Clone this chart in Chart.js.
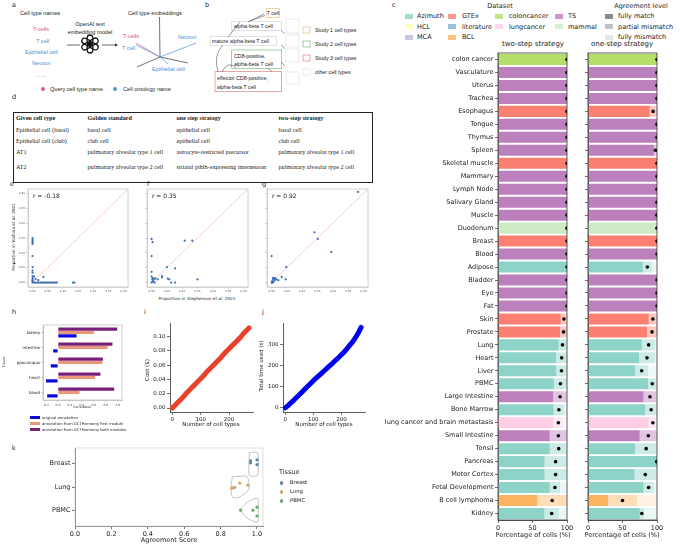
<!DOCTYPE html>
<html>
<head>
<meta charset="utf-8">
<script src="https://cdn.jsdelivr.net/npm/chart.js@4.4.1/dist/chart.umd.min.js"></script>
<style>
  html, body { margin: 0; padding: 0; background: #fff; }
  #page { position: relative; width: 680px; height: 547px; overflow: hidden; font-family: 'DejaVu Sans', sans-serif; color: #222; }
  .t { position: absolute; white-space: nowrap; line-height: 1; }
  .cv { position: absolute; }
  .sw { position: absolute; }
  #tblD { position: absolute; left: 13px; top: 112px; width: 359px; border-collapse: collapse; table-layout: fixed;
          border: 1.2px solid #222; font-family: 'Liberation Serif', serif; font-size: 6.2px; line-height: 1; }
  #tblD td, #tblD th { padding: 0 0 0 1px; text-align: left; vertical-align: middle; white-space: nowrap; overflow: hidden; }
  #tblD th { font-weight: bold; }
</style>
</head>
<body>
<div id="page">

<!-- a / b : diagrammes -->
<svg width="680" height="547" style="position:absolute;left:0;top:0" font-family="'Liberation Sans', Arial, sans-serif" font-size="5.6">
  <!-- a -->
  <text x="20" y="15" fill="#222">Cell type names</text>
  <text x="33" y="31" fill="#e0509a">T-cells</text>
  <text x="36" y="43" fill="#4a8fd8">T cell</text>
  <text x="25" y="54" fill="#4a8fd8">Epithelial cell</text>
  <text x="32" y="65" fill="#4a8fd8">Neuron</text>
  <text x="37" y="77" fill="#4a8fd8">......</text>
  <circle cx="43" cy="89" r="1.9" fill="#e0509a"/>
  <text x="50" y="91" fill="#222">Query cell type name</text>
  <circle cx="115" cy="89" r="1.9" fill="#4a8fd8"/>
  <text x="123" y="91" fill="#222">Cell ontology name</text>
  <text x="90" y="26" text-anchor="middle" fill="#222">OpenAI text</text>
  <text x="90" y="34" text-anchor="middle" fill="#222">embedding model</text>
  <g transform="translate(90,44)" fill="none" stroke="#111" stroke-width="1.3">
    <rect x="-2.8" y="-9" width="5.6" height="10" rx="2.8"/>
    <rect x="-2.8" y="-9" width="5.6" height="10" rx="2.8" transform="rotate(60)"/>
    <rect x="-2.8" y="-9" width="5.6" height="10" rx="2.8" transform="rotate(120)"/>
    <rect x="-2.8" y="-9" width="5.6" height="10" rx="2.8" transform="rotate(180)"/>
    <rect x="-2.8" y="-9" width="5.6" height="10" rx="2.8" transform="rotate(240)"/>
    <rect x="-2.8" y="-9" width="5.6" height="10" rx="2.8" transform="rotate(300)"/>
  </g>
  <line x1="67" y1="45" x2="80" y2="45" stroke="#222" stroke-width="0.7"/>
  <line x1="102" y1="45" x2="116" y2="45" stroke="#222" stroke-width="0.7"/>
  <path d="M118,45 L115,43.6 L115,46.4 Z" fill="#222"/>
  <text x="128" y="15" fill="#222">Cell type embeddings</text>
  <g stroke-width="0.7">
    <line x1="159.5" y1="17" x2="160" y2="57" stroke="#333"/>
    <line x1="160" y1="57" x2="137" y2="67" stroke="#333"/>
    <line x1="160" y1="57" x2="188" y2="63" stroke="#333"/>
    <line x1="160" y1="57" x2="196" y2="43" stroke="#4a8fd8"/>
    <line x1="160" y1="57" x2="168" y2="64" stroke="#4a8fd8"/>
    <line x1="160" y1="57" x2="136" y2="43" stroke="#e0509a"/>
    <line x1="160" y1="57" x2="136" y2="45" stroke="#4a8fd8"/>
  </g>
  <text x="123" y="38" fill="#e0509a">T-cells</text>
  <text x="122" y="50" fill="#4a8fd8">T cell</text>
  <text x="152" y="71" fill="#4a8fd8">Epithelial cell</text>
  <text x="178" y="39" fill="#4a8fd8">Neuron</text>

  <!-- b -->
  <g font-size="5.3" fill="#222">
    <rect x="266.7" y="8.3" width="12.6" height="9" fill="#fff" stroke="#e8b070" stroke-width="0.6"/>
    <text x="273" y="15" text-anchor="middle">T cell</text>
    <rect x="231.7" y="21.7" width="50" height="9" fill="#fff" stroke="#ccc" stroke-width="0.6"/>
    <text x="234" y="28">alpha-beta T cell</text>
    <rect x="210" y="36.7" width="66.7" height="8.5" fill="#fff" stroke="#ccc" stroke-width="0.6"/>
    <text x="212" y="43">mature alpha-beta T cell</text>
    <rect x="231.7" y="50" width="50" height="18.3" fill="#fff" stroke="#6ab06a" stroke-width="0.6"/>
    <text x="234" y="57.5">CD8-positive,</text>
    <text x="234" y="65.5">alpha-beta T cell</text>
    <rect x="215" y="71.7" width="66.7" height="20" fill="#fff" stroke="#d47070" stroke-width="0.6"/>
    <text x="217" y="80">effector CD8-positive,</text>
    <text x="217" y="88.5">alpha-beta T cell</text>
    <g fill="none" stroke="#ddd" stroke-width="0.6">
      <rect x="286" y="19" width="13" height="14"/>
      <rect x="286" y="35" width="13" height="12"/>
      <rect x="286" y="49" width="13" height="13"/>
      <rect x="286" y="72" width="13" height="12"/>
    </g>
    <g fill="none" stroke="#333" stroke-width="0.5">
      <line x1="248" y1="22" x2="264" y2="14"/>
      <line x1="250" y1="21" x2="265" y2="15.5"/>
      <line x1="228" y1="37" x2="240" y2="22"/>
      <path d="M218,72 Q213,55 223,45"/>
      <path d="M222,72 Q228,60 236,68"/>
      <line x1="268" y1="68.3" x2="272" y2="71.7"/>
      <line x1="281" y1="30.5" x2="285" y2="34"/>
      <line x1="281" y1="45" x2="285" y2="48.5"/>
      <line x1="281" y1="62" x2="285" y2="66"/>
    </g>
    <rect x="303" y="27" width="7" height="6" fill="none" stroke="#e8b070" stroke-width="0.6"/>
    <text x="315" y="32">Study 1 cell types</text>
    <rect x="303" y="41" width="7" height="6" fill="none" stroke="#6ab06a" stroke-width="0.6"/>
    <text x="315" y="46">Study 2 cell types</text>
    <rect x="303" y="55" width="7" height="6" fill="none" stroke="#d47070" stroke-width="0.6"/>
    <text x="315" y="60">Study 3 cell types</text>
    <rect x="303" y="69" width="7" height="6" fill="none" stroke="#ddd" stroke-width="0.6"/>
    <text x="315" y="74">other cell types</text>
  </g>
</svg>

<!-- d : tableau -->
<table id="tblD">
  <colgroup><col style="width:73px"><col style="width:89px"><col style="width:102px"><col style="width:95px"></colgroup>
  <tr style="height:11.5px"><th style="padding-left:2px">Given cell type</th><th>Golden standard</th><th>one step strategy</th><th>two-step strategy</th></tr>
  <tr style="height:12.5px"><td style="padding-left:2px">Epithelial cell (basal)</td><td>basal cell</td><td>epithelial cell</td><td>basal cell</td></tr>
  <tr style="height:10px"><td style="padding-left:2px">Epithelial cell (club)</td><td>club cell</td><td>epithelial cell</td><td>club cell</td></tr>
  <tr style="height:11px"><td style="padding-left:2px">AT1</td><td>pulmonary alveolar type 1 cell</td><td>astrocyte-restricted precursor</td><td>pulmonary alveolar type 1 cell</td></tr>
  <tr style="height:25px"><td style="padding-left:2px;vertical-align:top;padding-top:6px">AT2</td><td style="vertical-align:top;padding-top:6px">pulmonary alveolar type 2 cell</td><td style="vertical-align:top;padding-top:6px">striatal pthlh-expressing interneuron</td><td style="vertical-align:top;padding-top:6px">pulmonary alveolar type 2 cell</td></tr>
</table>

</div>

<script>
// ---- panel c : accord par tissu
const tissues = ['colon cancer', 'Vasculature', 'Uterus', 'Trachea', 'Esophagus', 'Tongue', 'Thymus', 'Spleen',
  'Skeletal muscle', 'Mammary', 'Lymph Node', 'Salivary Gland', 'Muscle', 'Duodenum', 'Breast', 'Blood',
  'Adipose', 'Bladder', 'Eye', 'Fat', 'Skin', 'Prostate', 'Lung', 'Heart', 'Liver', 'PBMC', 'Large Intestine',
  'Bone Marrow', 'lung cancer and brain metastasis', 'Small Intestine', 'Tonsil', 'Pancreas', 'Motor Cortex',
  'Fetal Development', 'B cell lymphoma', 'Kidney'];
const tissueSource = ['coloncancer', 'TS', 'TS', 'TS', 'GTEx', 'TS', 'TS', 'TS',
  'GTEx', 'TS', 'TS', 'TS', 'TS', 'mammal', 'GTEx', 'TS',
  'Azimuth', 'TS', 'TS', 'TS', 'GTEx', 'GTEx', 'Azimuth', 'Azimuth', 'Azimuth', 'Azimuth', 'TS',
  'Azimuth', 'lungcancer', 'TS', 'Azimuth', 'Azimuth', 'Azimuth',
  'Azimuth', 'BCL', 'Azimuth'];
const twoFull = [100, 100, 100, 100, 100, 100, 100, 100, 100, 100, 100, 100, 100, 100, 100, 100,
  100, 100, 100, 100, 91, 90, 88, 84.5, 84.5, 81, 80, 80.5, 80, 75, 75, 67.5, 67.5, 75, 57, 67.5];
const twoPartial = [0, 0, 0, 0, 0, 0, 0, 0, 0, 0, 0, 0, 0, 0, 0, 0,
  0, 0, 0, 0, 9, 10, 11, 15.5, 15, 19, 20, 15.5, 15, 25, 25, 32, 32, 15, 43, 20.5];
const twoScore = [100, 100, 100, 100, 100, 100, 100, 100, 100, 100, 100, 100, 100, 100, 100, 100,
  100, 100, 100, 100, 95.5, 95, 93.5, 92.3, 92, 90.5, 90, 88.3, 87.5, 87.5, 88, 83.5, 83.5, 82.5, 78.5, 77.8];
const oneFull = [100, 100, 100, 100, 89.5, 100, 100, 95.5, 100, 100, 100, 100, 100, 100, 100, 100,
  79.5, 100, 100, 100, 88, 85.5, 78, 74, 68.5, 87, 80.5, 83, 88, 75, 68.5, 100, 67.5, 80.5, 29, 75];
const onePartial = [0, 0, 0, 0, 10.5, 0, 0, 4.5, 0, 0, 0, 0, 0, 0, 0, 0,
  13, 0, 0, 0, 12, 14.5, 19, 23, 18.5, 12.5, 18.5, 17, 12, 25, 31.5, 0, 31, 14.5, 42, 6];
const oneScore = [100, 100, 100, 100, 94.3, 100, 100, 97.8, 100, 100, 100, 100, 100, 100, 100, 100,
  86, 100, 100, 100, 94, 92.8, 87.8, 85.5, 77.8, 93.2, 89.8, 91.5, 94, 87.5, 84.3, 99.5, 83, 87.8, 50, 78];
const pctTicks = [0, 50, 100];
const sourceNames = ['Azimuth', 'HCL', 'MCA', 'GTEx', 'literature', 'BCL', 'coloncancer', 'lungcancer', 'TS', 'mammal'];
const sourceColors = { Azimuth: '#8dd3c7', HCL: '#ffffb3', MCA: '#bebada', GTEx: '#fb8072', literature: '#80b1d3',
  BCL: '#fdb462', coloncancer: '#b3de69', lungcancer: '#fccde5', TS: '#bc80bd', mammal: '#ccebc5' };
const agreementNames = ['fully match', 'partial mismatch', 'fully mismatch'];

// ---- panels e, f, g : proportions
const propTicks = [0, 0.05, 0.10, 0.15, 0.20, 0.25, 0.30];
const diagX = [0, 0.315];
const diagY = [0, 0.315];
const eX = [0, 0, 0, 0, 0, 0, 0, 0, 0, 0, 0, 0, 0, 0, 0,
  0.005, 0.01, 0.015, 0.02, 0.025, 0.03, 0.035, 0.04, 0.045, 0.05, 0.055, 0.06, 0.065, 0.07, 0.075, 0.08, 0.133, 0.138,
  0.036, 0.019, 0.01, 0.005];
const eY = [0.15, 0.145, 0.14, 0.135, 0.13, 0.089, 0.052, 0.04, 0.033, 0.022, 0.015, 0.01, 0.006, 0.003, 0,
  0, 0, 0, 0, 0, 0, 0, 0, 0, 0, 0, 0, 0, 0, 0, 0, 0, 0,
  0.019, 0.008, 0.012, 0.02];
const fX = [0, 0.003, 0, 0, 0, 0.002, 0.004, 0.006, 0.008, 0.01, 0, 0.003, 0.012, 0.02, 0.034, 0.034, 0.053, 0.058,
  0.064, 0.077, 0.05, 0.077, 0.108, 0.133, 0.15];
const fY = [0.147, 0.136, 0.089, 0.036, 0.02, 0.01, 0.015, 0.005, 0.012, 0, 0, 0.002, 0.014, 0.011, 0.022, 0.017, 0.013, 0.011,
  0, 0, 0.052, 0.048, 0.141, 0.141, 0.011];
const gX = [0, 0, 0.002, 0.004, 0.006, 0.008, 0.003, 0.01, 0.015, 0.022, 0.033, 0.046, 0.048, 0.14, 0.151, 0.195, 0.282, 0.012, 0.005];
const gY = [0.089, 0, 0.005, 0.012, 0.002, 0.015, 0, 0.008, 0.011, 0.008, 0.019, 0.011, 0.052, 0.169, 0.147, 0.103, 0.305, 0.014, 0.016];

// ---- panel h : correlation
const hTissues = ['kidney', 'intestine', 'hippocampus', 'heart', 'blood'];
const hOriginal = [0.31, -0.08, -0.12, -0.2, -0.18];
const hFirstModule = [0.6, 0.83, 0.74, 0.62, 0.36];
const hBothModules = [0.99, 0.91, 0.75, 0.71, 0.94];
const corrTicks = [-0.2, 0, 0.2, 0.4, 0.6, 0.8, 1.0];

// ---- panels i, j : cout et temps
const nTypes = [0, 10, 20, 30, 40, 50, 60, 70, 80, 90, 100, 110, 120, 130, 140, 150, 160, 170, 180, 190, 200,
  210, 220, 230, 240, 250, 260, 270];
const costUsd = [0, 0.004, 0.008, 0.012, 0.016, 0.021, 0.025, 0.029, 0.033, 0.037, 0.041, 0.045, 0.050, 0.054,
  0.058, 0.062, 0.066, 0.070, 0.075, 0.079, 0.083, 0.087, 0.091, 0.095, 0.099, 0.104, 0.108, 0.112];
const timeSec = [0, 11, 24, 36, 49, 62, 75, 89, 102, 115, 128, 140, 152, 164, 176, 188, 200, 212, 225, 237, 250,
  263, 279, 295, 310, 330, 352, 378];
const typeTicks = [0, 100, 200];
const costTicks = [0, 0.02, 0.04, 0.06, 0.08, 0.10];
const timeTicks = [0, 100, 200, 300];

// ---- panel k : score d'accord
const kTissues = ['Breast', 'Lung', 'PBMC'];
const kColors = ['#6084ad', '#d9a56f', '#6caa6c'];
const kScores = [[0.965, 0.965, 1.0, 1.0], [0.862, 0.872, 0.878, 0.905, 0.95], [0.91, 0.978, 1.0, 1.0]];
const kJitter = [[-0.13, -0.04, -0.17, 0.04], [0.05, 0.03, 0.02, -0.17, -0.08], [0, 0, -0.13, 0.25]];
const kViolinX = [[0.958, 0.958, 1.003, 1.003, 0.958], [0.865, 0.945, 0.958, 0.945, 0.9, 0.865, 0.857, 0.865],
  [0.905, 0.94, 0.985, 1.005, 1.005, 0.985, 0.94, 0.905]];
const kViolinY = [[-0.48, 0.5, 0.5, -0.48, -0.48], [-0.45, -0.45, 0, 0.2, 0.45, 0.45, 0, -0.45],
  [0, -0.3, -0.5, -0.5, 0.5, 0.5, 0.3, 0]];
const scoreTicks = [0, 0.2, 0.4, 0.6, 0.8, 1.0];

// ------------------------------------------------------------------
Chart.defaults.font.family = "'DejaVu Sans', sans-serif";
Chart.defaults.color = '#222';
const page = document.getElementById('page');

const framePlugin = {
  id: 'frame',
  afterDraw(chart, args, opts) {
    if (!opts || !opts.color) return;
    const { ctx, chartArea: a } = chart;
    ctx.save();
    ctx.strokeStyle = opts.color;
    ctx.lineWidth = opts.width || 0.8;
    ctx.strokeRect(a.left, a.top, a.right - a.left, a.bottom - a.top);
    ctx.restore();
  }
};
Chart.register(framePlugin);

function rgba(hex, a) {
  const n = parseInt(hex.slice(1), 16);
  return `rgba(${n >> 16},${(n >> 8) & 255},${n & 255},${a})`;
}

function txt(s, x, y, size, o = {}) {
  const d = document.createElement('div');
  d.className = 't';
  d.textContent = s;
  d.style.left = x + 'px';
  d.style.top = y + 'px';
  d.style.fontSize = size + 'px';
  if (o.color) d.style.color = o.color;
  if (o.family) d.style.fontFamily = o.family;
  const ax = o.align === 'c' ? '-50%' : o.align === 'r' ? '-100%' : '0';
  d.style.transform = `translate(${ax},-50%)` + (o.rot ? ` rotate(${o.rot}deg)` : '');
  page.appendChild(d);
}

function swatch(x, y, w, h, color) {
  const d = document.createElement('div');
  d.className = 'sw';
  Object.assign(d.style, { left: x + 'px', top: y + 'px', width: w + 'px', height: h + 'px', background: color });
  page.appendChild(d);
}

// box = zone de tracé [x, y, w, h] ; m = marges [haut, droite, bas, gauche]
function makeChart(box, m, cfg) {
  const [x, y, w, h] = box;
  const [mt, mr, mb, ml] = m;
  const div = document.createElement('div');
  div.className = 'cv';
  Object.assign(div.style, { left: (x - ml) + 'px', top: (y - mt) + 'px', width: (w + ml + mr) + 'px', height: (h + mt + mb) + 'px' });
  const cv = document.createElement('canvas');
  cv.width = w + ml + mr;
  cv.height = h + mt + mb;
  div.appendChild(cv);
  page.appendChild(div);
  cfg.options = Object.assign({ responsive: false, animation: false, events: [] }, cfg.options);
  cfg.options.layout = { padding: { top: mt, right: mr, bottom: 0, left: 0 } };
  cfg.options.plugins = Object.assign({ legend: { display: false }, tooltip: { enabled: false } }, cfg.options.plugins);
  const sc = cfg.options.scales;
  sc.x.afterFit = s => { s.height = mb; s.paddingLeft = 0; s.paddingRight = 0; };
  sc.y.afterFit = s => { s.width = ml; s.paddingTop = 0; s.paddingBottom = 0; };
  return new Chart(cv, cfg);
}

function linAxis(ticks, min, max, o = {}) {
  return {
    type: 'linear', min, max, reverse: !!o.reverse,
    afterBuildTicks: s => { s.ticks = ticks.map(v => ({ value: v })); },
    ticks: { font: { size: o.size || 5 }, color: o.color || '#222', padding: o.pad ?? 1.5, autoSkip: false, maxRotation: 0,
      display: o.labels !== false, callback: o.fmt || (v => v) },
    grid: { drawOnChartArea: false, drawTicks: true, tickLength: o.tl ?? 3, color: o.tc || '#333', lineWidth: 0.7 },
    border: { display: o.border !== false, color: o.bc || '#333', width: 0.8 }
  };
}

function catAxis(o = {}) {
  return {
    type: 'category', offset: true,
    ticks: { font: { size: o.size || 5 }, color: '#222', padding: o.pad ?? 1.5, autoSkip: false, display: o.labels !== false },
    grid: { offset: false, drawOnChartArea: false, drawTicks: true, tickLength: o.tl ?? 3, color: o.tc || '#333', lineWidth: 0.7 },
    border: { display: true, color: o.bc || '#333', width: 0.8 }
  };
}

// ---------------- panel c
function strategyChart(box, m, full, partial, score, showLabels) {
  const mismatch = full.map((f, i) => Math.max(0, 100 - f - partial[i]));
  const base = tissueSource.map(s => sourceColors[s]);
  return makeChart(box, m, {
    type: 'bar',
    data: {
      labels: tissues,
      datasets: [
        { type: 'scatter', data: score.map((v, i) => ({ x: v, y: tissues[i] })), backgroundColor: '#000', borderWidth: 0, pointRadius: 1.8, order: 0 },
        { data: full, backgroundColor: base.map(c => rgba(c, 1)), stack: 's', order: 1 },
        { data: partial, backgroundColor: base.map(c => rgba(c, 0.45)), stack: 's', order: 1 },
        { data: mismatch, backgroundColor: base.map(c => rgba(c, 0.17)), stack: 's', order: 1 }
      ]
    },
    options: {
      indexAxis: 'y',
      datasets: { bar: { barPercentage: 0.85, categoryPercentage: 1 } },
      scales: {
        x: linAxis(pctTicks, 0, 100, { size: 6.5 }),
        y: catAxis({ size: 6.5, labels: showLabels })
      },
      plugins: { frame: { color: '#333' } }
    }
  });
}
strategyChart([498, 50.5, 69, 469], [2, 6, 14, 125], twoFull, twoPartial, twoScore, true);
strategyChart([588, 50.5, 69, 469], [2, 8, 14, 12], oneFull, onePartial, oneScore, false);

txt('c', 392, 5, 6.5);
txt('Dataset', 500, 6, 6.5, { align: 'c' });
// colonne / ligne de chaque entrée de la légende
const legendSlots = [[0, 0], [0, 1], [0, 2], [1, 0], [1, 1], [1, 2], [2, 0], [2, 1], [3, 0], [3, 1]];
const legendCols = [[405, 417], [448, 462], [495, 509], [555, 568]];
const legendRows = [16, 26.5, 37];
sourceNames.forEach((name, i) => {
  const [col, row] = legendSlots[i];
  swatch(legendCols[col][0], legendRows[row] - 2.5, 8, 5, rgba(sourceColors[name], 0.8));
  txt(name, legendCols[col][1], legendRows[row], 6.5);
});
txt('Agreement level', 641, 6, 6.5, { align: 'c' });
const agreementGrays = ['#8a8a8a', '#c2c2c2', '#e6e6e6'];
agreementNames.forEach((name, i) => {
  swatch(605, legendRows[i] - 2.5, 8, 5, agreementGrays[i]);
  txt(name, 618, legendRows[i], 6.5);
});
txt('two-step strategy', 533, 44, 7, { align: 'c' });
txt('one-step strategy', 622, 44, 7, { align: 'c' });
txt('Percentage of cells (%)', 533, 535, 6.5, { align: 'c' });
txt('Percentage of cells (%)', 622, 535, 6.5, { align: 'c' });

// ---------------- panels e f g
function propChart(box, m, xs, ys, showY) {
  return makeChart(box, m, {
    type: 'scatter',
    data: {
      datasets: [
        { data: xs.map((x, i) => ({ x, y: ys[i] })), backgroundColor: '#3a6eb0', borderWidth: 0, pointRadius: 1.1, order: 0 },
        { type: 'line', data: diagX.map((x, i) => ({ x, y: diagY[i] })), borderColor: '#e0685c', borderWidth: 0.6,
          borderDash: [1.5, 1.2], pointRadius: 0, fill: false, order: 1 }
      ]
    },
    options: {
      scales: {
        x: linAxis(propTicks, -0.015, 0.315, { size: 2.8, color: '#555', tl: 1.5, tc: '#999', bc: '#ccc', fmt: v => v.toFixed(2) }),
        y: linAxis(propTicks, -0.015, 0.315, { size: 2.8, color: '#555', tl: 1.5, tc: '#999', bc: '#ccc', labels: showY, fmt: v => v.toFixed(2) })
      },
      plugins: { frame: { color: '#c8c8c8' } }
    }
  });
}
propChart([28, 188, 100, 99], [3, 4, 8, 16], eX, eY, true);
propChart([147, 188, 101, 99], [3, 4, 8, 4], fX, fY, false);
propChart([267, 188, 101, 99], [3, 4, 8, 4], gX, gY, false);
txt('e', 10, 184, 6.5);
txt('f', 147, 184, 6.5);
txt('g', 262, 184, 6.5);
txt('r = -0.18', 33, 196, 6);
txt('r = 0.35', 152, 196, 6);
txt('r = 0.92', 272, 196, 6);
txt('Proportion in Yoshida et al. 2021', 14, 237, 4.2, { align: 'c', rot: -90 });
txt('Proportion in Stephenson et al. 2021', 197, 299, 4.2, { align: 'c' });

// ---------------- panel h
makeChart([43, 325, 79, 75], [2, 4, 7, 26], {
  type: 'bar',
  data: {
    labels: hTissues,
    datasets: [
      { data: hBothModules, backgroundColor: '#7a1f78' },
      { data: hFirstModule, backgroundColor: '#e9967a' },
      { data: hOriginal, backgroundColor: '#0a0ae0' }
    ]
  },
  options: {
    indexAxis: 'y',
    datasets: { bar: { barPercentage: 0.95, categoryPercentage: 0.68 } },
    scales: {
      x: linAxis(corrTicks, -0.25, 1.07, { size: 3, color: '#444', tl: 1.5, tc: '#888', bc: '#bbb', fmt: v => v.toFixed(1) }),
      y: catAxis({ size: 4, tl: 1.5, tc: '#888', bc: '#bbb' })
    },
    plugins: { frame: { color: '#bbb', width: 0.7 } }
  }
});
txt('h', 12, 312, 6.5);
txt('Tissue', 5, 362, 3.3, { align: 'c', rot: -90 });
txt('Correlation', 82, 408, 3.3, { align: 'c' });
const hLegend = [['original annotation', '#0a0ae0'], ['annotation from GCTHarmony first module', '#e9967a'],
  ['annotation from GCTHarmony both modules', '#7a1f78']];
hLegend.forEach(([name, col], i) => {
  swatch(30, 417.5 + i * 6 - 1.5, 10, 3, col);
  txt(name, 42, 417.5 + i * 6, 3.8);
});

// ---------------- panels i, j
function growthChart(box, m, ys, color, yTicks, yMin, yMax, fmt) {
  return makeChart(box, m, {
    type: 'line',
    data: { datasets: [{ data: nTypes.map((x, i) => ({ x, y: ys[i] })), borderColor: color, borderWidth: 5,
      borderCapStyle: 'round', borderJoinStyle: 'round', pointRadius: 0, fill: false }] },
    options: {
      scales: {
        x: linAxis(typeTicks, -8, 284, { size: 5.5 }),
        y: linAxis(yTicks, yMin, yMax, { size: 5.5, fmt })
      }
    }
  });
}
growthChart([170, 323, 83, 89], [4, 4, 12, 20], costUsd, '#e8412c', costTicks, -0.0056, 0.119, v => v.toFixed(2));
growthChart([283, 323, 82, 89], [4, 4, 12, 16], timeSec, '#0000f0', timeTicks, -19, 399, v => v);
txt('i', 144, 312, 6.5);
txt('j', 262, 312, 6.5);
txt('Cost ($)', 148, 370, 5.5, { align: 'c', rot: -90 });
txt('Total time used (s)', 262, 366, 5.5, { align: 'c', rot: -90 });
txt('Number of cell types', 211, 425, 5.5, { align: 'c' });
txt('Number of cell types', 324, 425, 5.5, { align: 'c' });

// ---------------- panel k
const kDatasets = [];
kTissues.forEach((t, ti) => {
  kDatasets.push({ type: 'line', data: kViolinX[ti].map((x, i) => ({ x, y: ti + kViolinY[ti][i] })), borderColor: '#a8a8a8',
    borderWidth: 0.7, pointRadius: 0, fill: false, tension: 0.2, order: 1 });
  kDatasets.push({ data: kScores[ti].map((x, i) => ({ x, y: ti + kJitter[ti][i] })), backgroundColor: kColors[ti],
    borderWidth: 0, pointRadius: 1.6, order: 0 });
});
makeChart([75, 447, 188, 79], [3, 6, 20, 34], {
  type: 'scatter',
  data: { datasets: kDatasets },
  options: {
    scales: {
      x: linAxis(scoreTicks, 0, 1.033, { size: 6.5, fmt: v => v.toFixed(1), bc: '#555' }),
      y: linAxis([0, 1, 2], -0.68, 2.68, { size: 6.5, reverse: true, fmt: v => kTissues[v], bc: '#555' })
    },
    plugins: { frame: { color: '#d0d0d0', width: 0.7 } }
  }
});
txt('k', 12, 448, 6.5);
txt('Agreement Score', 169, 540, 6.5, { align: 'c' });
txt('Tissue', 279, 472, 6.5);
kTissues.forEach((t, i) => {
  const y = 483 + i * 9;
  const d = document.createElement('div');
  Object.assign(d.style, { position: 'absolute', left: '279.5px', top: (y - 1.6) + 'px', width: '3.2px', height: '3.2px',
    borderRadius: '50%', background: kColors[i] });
  page.appendChild(d);
  txt(t, 290, y, 5.3);
});

// ---------------- panel letters a, b, d
txt('a', 12, 5, 6.5);
txt('b', 205, 5, 6.5);
txt('d', 12, 97, 6.5);
</script>
</body>
</html>
